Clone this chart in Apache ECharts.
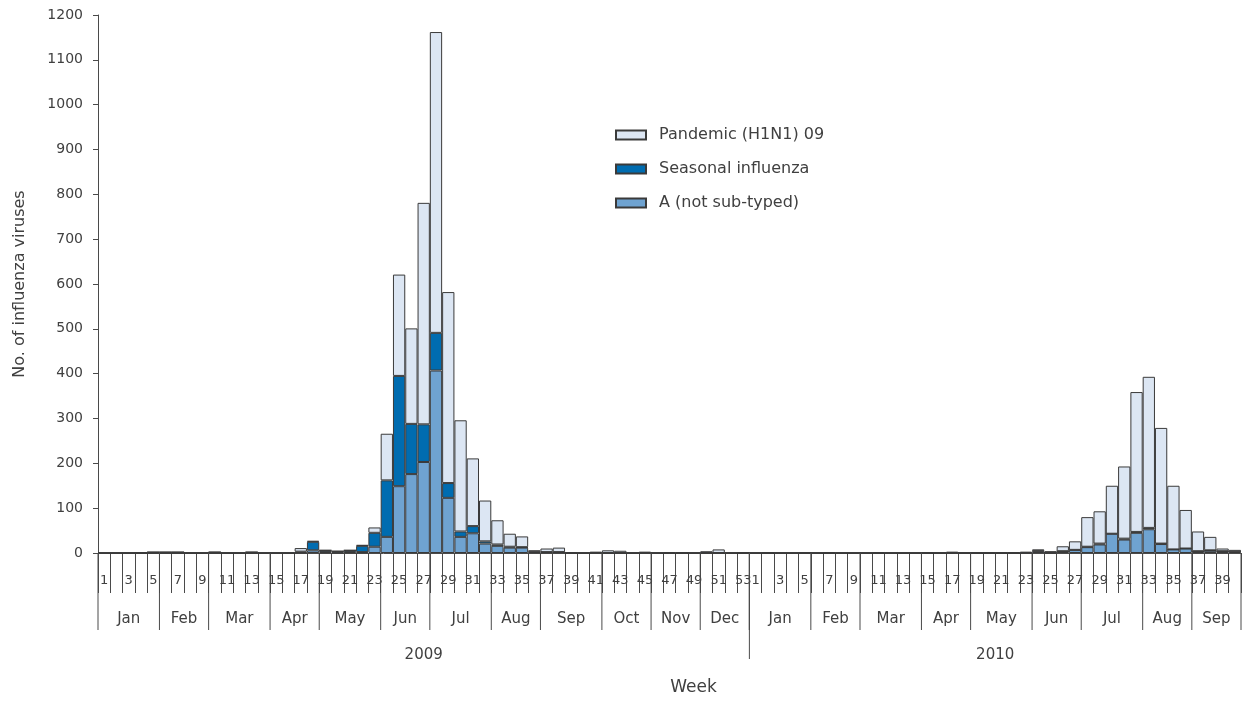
<!DOCTYPE html>
<html><head><meta charset="utf-8">
<script src="https://cdn.jsdelivr.net/npm/echarts@6/dist/echarts.min.js"></script>
<style>html,body{margin:0;padding:0;background:#fff}#c{width:1243px;height:701px}</style>
</head><body><div id="c"></div>
<script>
// ---- data ----
const weeks2009 = ['1','2','3','4','5','6','7','8','9','10','11','12','13','14','15','16','17','18','19','20','21','22','23','24','25','26','27','28','29','30','31','32','33','34','35','36','37','38','39','40','41','42','43','44','45','46','47','48','49','50','51','52','53'];
const weeks2010 = ['1','2','3','4','5','6','7','8','9','10','11','12','13','14','15','16','17','18','19','20','21','22','23','24','25','26','27','28','29','30','31','32','33','34','35','36','37','38','39','40'];
const years = ['2009', '2010'];
const months2009 = ['Jan','Feb','Mar','Apr','May','Jun','Jul','Aug','Sep','Oct','Nov','Dec'];
const monthWeeks2009 = [5,4,5,4,5,4,5,4,5,4,4,4];
const months2010 = ['Jan','Feb','Mar','Apr','May','Jun','Jul','Aug','Sep'];
const monthWeeks2010 = [5,4,5,4,5,4,5,4,4];

const notSubtyped2009 = [0,0,0,0,0,0,0,0,0,0,0,0,0,0,0,0,1,6,2,1,2,2,14,36,149,176,203,407,123,36,44,21,16,12,12,2,2,2,0,0,0,0,0,0,0,0,0,0,0,0,0,0,0];
const seasonal2009    = [0,0,0,1,2,2,2,0,0,2,0,0,2,0,0,0,2,19,4,3,4,14,31,126,246,112,84,84,33,12,16,5,3,2,1,1,0,0,0,0,0,0,0,0,0,0,0,0,0,0,0,0,0];
const pandemic2009    = [0,0,0,0,0,0,0,0,0,0,0,0,0,0,0,0,8,2,0,0,0,2,12,104,226,213,494,671,426,248,151,91,54,29,24,3,8,10,2,0,3,6,5,0,3,0,2,2,0,4,8,0,2];
const notSubtyped2010 = [0,0,0,0,0,0,0,0,0,0,0,0,0,0,0,0,0,0,0,0,0,0,0,4,1,4,7,13,19,43,30,45,53,20,8,10,4,5,4,3];
const seasonal2010    = [0,0,0,0,0,0,0,0,0,0,0,0,0,0,0,0,0,0,0,0,0,0,0,1,0,0,0,1,2,0,2,2,3,1,0,0,0,1,0,0];
const pandemic2010    = [0,2,0,0,2,0,2,0,0,0,2,0,0,0,2,0,3,1,1,1,1,2,3,3,3,11,19,66,72,107,161,312,337,258,142,86,44,30,6,4];
const yTicks = [0,100,200,300,400,500,600,700,800,900,1000,1100,1200];

// ---- derived ----
const categories = weeks2009.map(w => '2009|' + w).concat(weeks2010.map(w => '2010|' + w));
const notSubtyped = notSubtyped2009.concat(notSubtyped2010);
const seasonal = seasonal2009.concat(seasonal2010);
const pandemic = pandemic2009.concat(pandemic2010);

function spans(names, counts, offset) {
  const out = []; let s = offset;
  names.forEach((n, i) => { out.push({name: n, value: [s, s + counts[i] - 1, 0], last: i === names.length - 1}); s += counts[i]; });
  return out;
}
const monthData = spans(months2009, monthWeeks2009, 0).concat(spans(months2010, monthWeeks2010, weeks2009.length));
const yearData = [
  {name: years[0], value: [0, weeks2009.length - 1, 0], first: true},
  {name: years[1], value: [weeks2009.length, weeks2009.length + weeks2010.length - 1, 0]}
];

const TXT = '#404040', AX = '#4a4a4a', FONT = '"DejaVu Sans", sans-serif';

function renderMonth(params, api) {
  const d = monthData[params.dataIndex];
  const bw = api.size([1, 0])[0];
  const p0 = api.coord([api.value(0), 0]), p1 = api.coord([api.value(1), 0]);
  const x0 = p0[0] - bw / 2, x1 = p1[0] + bw / 2, y = p0[1];
  const ch = [
    {type: 'line', shape: {x1: x0, y1: y, x2: x0, y2: y + 77}, style: {stroke: AX, lineWidth: 1}},
    {type: 'text', style: {text: d.name, x: (x0 + x1) / 2, y: y + 66, align: 'center', verticalAlign: 'middle', fill: TXT, fontSize: 15, fontFamily: FONT}}
  ];
  if (d.last) ch.push({type: 'line', shape: {x1: x1, y1: y, x2: x1, y2: y + 77}, style: {stroke: AX, lineWidth: 1}});
  return {type: 'group', children: ch};
}
function renderYear(params, api) {
  const d = yearData[params.dataIndex];
  const bw = api.size([1, 0])[0];
  const p0 = api.coord([api.value(0), 0]), p1 = api.coord([api.value(1), 0]);
  const x0 = p0[0] - bw / 2, x1 = p1[0] + bw / 2, y = p0[1];
  const ch = [
    {type: 'text', style: {text: d.name, x: (x0 + x1) / 2, y: y + 102, align: 'center', verticalAlign: 'middle', fill: TXT, fontSize: 15, fontFamily: FONT}}
  ];
  if (!d.first) ch.push({type: 'line', shape: {x1: x0, y1: y, x2: x0, y2: y + 106}, style: {stroke: AX, lineWidth: 1}});
  return {type: 'group', children: ch};
}

const chart = echarts.init(document.getElementById('c'), null, {renderer: 'canvas'});
const barBorder = {borderColor: '#3a3a3a', borderWidth: 1};
chart.setOption({
  animation: false,
  backgroundColor: '#fff',
  textStyle: {fontFamily: FONT},
  grid: {left: 98, right: 2, top: 15, bottom: 146, containLabel: false},
  legend: {
    orient: 'vertical', left: 610, top: 122, itemWidth: 30, itemHeight: 9, itemGap: 18,
    icon: 'rect',
    data: ['Pandemic (H1N1) 09', 'Seasonal influenza', 'A (not sub-typed)'],
    textStyle: {fontSize: 16, color: TXT, fontFamily: FONT, padding: [0, 0, 0, 8]}
  },
  xAxis: {
    type: 'category', data: categories, boundaryGap: true,
    name: 'Week', nameLocation: 'middle', nameGap: 126,
    nameTextStyle: {fontSize: 17, color: TXT, fontFamily: FONT, padding: [0, 0, 0, 48]},
    axisLine: {show: true, lineStyle: {color: AX, width: 1}},
    axisTick: {show: true, interval: 0, length: 40, lineStyle: {color: AX, width: 1}},
    axisLabel: {
      interval: function (i, v) { return (+v.split('|')[1]) % 2 === 1; },
      formatter: function (v) { return v.split('|')[1]; },
      margin: 21, fontSize: 13, color: TXT, fontFamily: FONT
    },
    splitLine: {show: false}
  },
  yAxis: {
    type: 'value', min: yTicks[0], max: yTicks[yTicks.length - 1], interval: 100,
    name: 'No. of influenza viruses', nameLocation: 'middle', nameGap: 70,
    nameTextStyle: {fontSize: 16, color: TXT, fontFamily: FONT},
    axisLine: {show: true, lineStyle: {color: AX, width: 1}},
    axisTick: {show: true, length: 5, lineStyle: {color: AX}},
    axisLabel: {margin: 15, fontSize: 14, color: TXT, fontFamily: FONT, formatter: function (v) { return String(v); }},
    splitLine: {show: false}
  },
  series: [
    {name: 'A (not sub-typed)', type: 'bar', stack: 'v', data: notSubtyped, barCategoryGap: '0%',
      itemStyle: Object.assign({color: '#6fa3d1'}, barBorder)},
    {name: 'Seasonal influenza', type: 'bar', stack: 'v', data: seasonal, barCategoryGap: '0%',
      itemStyle: Object.assign({color: '#006cb0'}, barBorder)},
    {name: 'Pandemic (H1N1) 09', type: 'bar', stack: 'v', data: pandemic, barCategoryGap: '0%',
      itemStyle: Object.assign({color: '#dce6f3'}, barBorder)},
    {type: 'custom', silent: true, clip: false, renderItem: renderMonth, encode: {x: [0, 1], y: 2}, data: monthData.map(d => d.value), z: 5},
    {type: 'custom', silent: true, clip: false, renderItem: renderYear, encode: {x: [0, 1], y: 2}, data: yearData.map(d => d.value), z: 5}
  ]
});
</script></body></html>
